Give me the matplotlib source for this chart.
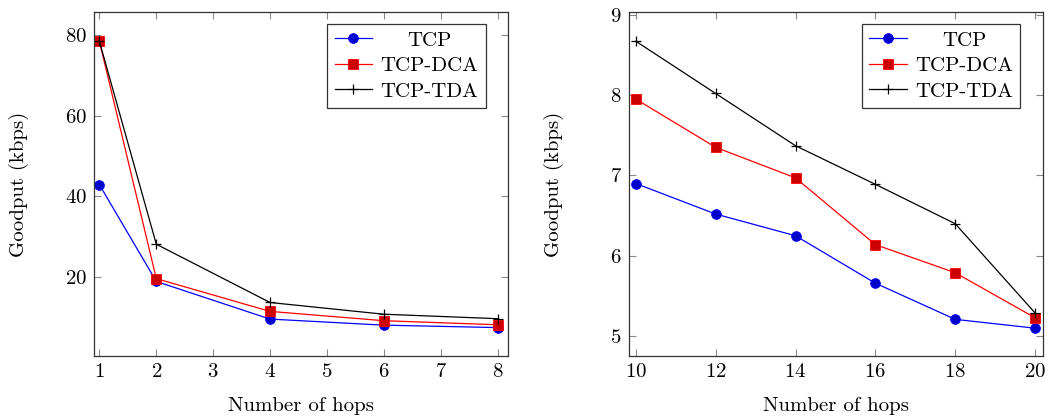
import matplotlib
matplotlib.use('agg')
import matplotlib.pyplot as plt

matplotlib.rcParams["font.family"] = "cmr10"
matplotlib.rcParams["axes.formatter.use_mathtext"] = True
matplotlib.rcParams["mathtext.fontset"] = "cm"

# left panel: short paths
hops_short = [1, 2, 4, 6, 8]
tcp_short = [42.9, 19.0, 9.7, 8.2, 7.6]
dca_short = [78.3, 19.7, 11.6, 9.3, 8.3]
tda_short = [78.3, 28.2, 13.8, 10.9, 9.8]

# right panel: long paths
hops_long = [10, 12, 14, 16, 18, 20]
tcp_long = [6.90, 6.52, 6.25, 5.66, 5.21, 5.10]
dca_long = [7.95, 7.35, 6.97, 6.14, 5.79, 5.23]
tda_long = [8.67, 8.02, 7.37, 6.89, 6.40, 5.29]

series_labels = ["TCP", "TCP-DCA", "TCP-TDA"]

fig = plt.figure(figsize=(10.49, 4.19), dpi=100)
ax1 = fig.add_axes([0.0899, 0.1496, 0.3947, 0.821])
ax2 = fig.add_axes([0.5993, 0.1496, 0.3950, 0.821])


def draw_panel(ax, x, tcp, dca, tda):
    ax.plot(x, tcp, color="blue", lw=0.9, marker="o", ms=7,
            mfc=(0, 0, 0.8), mec="blue", mew=0.6, label=series_labels[0])
    ax.plot(x, dca, color="red", lw=0.9, marker="s", ms=7,
            mfc=(0.8, 0, 0), mec="red", mew=0.6, label=series_labels[1])
    ax.plot(x, tda, color="black", lw=0.9, marker="+", ms=6.5,
            mew=0.9, label=series_labels[2])
    ax.tick_params(direction="in", top=True, right=True, length=5,
                   width=0.8, color="#888888", labelsize=15, pad=5)
    for s in ax.spines.values():
        s.set_color("#333333")
        s.set_linewidth(0.9)
    ax.set_xlabel("Number of hops", fontsize=15, labelpad=11)
    ax.set_ylabel("Goodput (kbps)", fontsize=15)
    ax.yaxis.set_label_coords(-0.157, 0.5)
    leg = ax.legend(loc="upper right", fontsize=15, frameon=True,
                    fancybox=False, edgecolor="#333333", framealpha=1,
                    handlelength=1.8, handletextpad=0.4,
                    labelspacing=0.33, borderpad=0.35,
                    bbox_to_anchor=(0.97, 0.997))
    leg.get_frame().set_linewidth(0.9)
    return leg


legends = [draw_panel(ax1, hops_short, tcp_short, dca_short, tda_short)]
ax1.set_xlim(0.91, 8.19)
ax1.set_ylim(0.5, 85.5)
ax1.set_xticks(range(1, 9))
ax1.set_yticks([20, 40, 60, 80])

legends.append(draw_panel(ax2, hops_long, tcp_long, dca_long, tda_long))
ax2.set_xlim(9.82, 20.2)
ax2.set_ylim(4.75, 9.03)
ax2.set_xticks(hops_long)
ax2.set_yticks([5, 6, 7, 8, 9])

# centre the legend entries in their column, as pgfplots does
fig.canvas.draw()
renderer = fig.canvas.get_renderer()
for leg in legends:
    widths = [t.get_window_extent(renderer).width for t in leg.texts]
    for t, w in zip(leg.texts, widths):
        t.set_position(((max(widths) - w) / 2, 0))

fig.savefig("out.png", dpi=100)
